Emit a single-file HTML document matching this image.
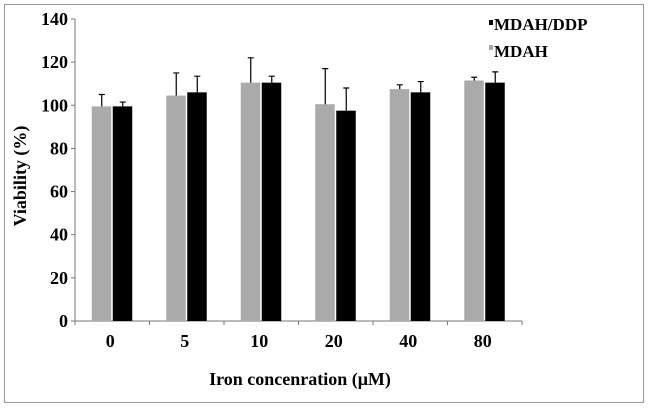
<!DOCTYPE html>
<html><head><meta charset="utf-8"><style>
body{margin:0;background:#fff;width:648px;height:407px;overflow:hidden}
svg{font-family:"Liberation Serif",serif;font-weight:bold}
</style></head><body>
<svg width="648" height="407" id="c">
<rect x="4.5" y="4.5" width="639" height="398" fill="none" stroke="#999"/>
<text x="0" y="0" transform="translate(26,176) rotate(-90)" text-anchor="middle" font-size="18">Viability (%)</text>
<text x="300" y="385" text-anchor="middle" font-size="18">Iron concenration (μM)</text>
<g>
<rect x="489" y="20" width="4" height="5" fill="#000"/>
<text x="494" y="30" font-size="17">MDAH/DDP</text>
<rect x="489" y="45" width="4" height="5" fill="#aaa"/>
<text x="494" y="57" font-size="17">MDAH</text>
</g>
<g id="plot"></g>
</svg>
<script>
const categories=["0","5","10","20","40","80"];
const mdah=[99.5,104.5,110.5,100.5,107.5,111.5];
const mdahErr=[5.5,10.5,11.5,16.5,2,1.5];
const ddp=[99.5,106,110.5,97.5,106,110.5];
const ddpErr=[2,7.5,3,10.5,5,5];
const yTicks=[0,20,40,60,80,100,120,140];
const x0=75,x1=522,yBase=321,yTop=19,ymax=140;
const y=v=>yBase-(v/ymax)*(yBase-yTop);
const bw=(x1-x0)/categories.length;
const g=document.getElementById('plot');
const NS="http://www.w3.org/2000/svg";
function mk(t,a){const e=document.createElementNS(NS,t);for(const k in a)e.setAttribute(k,a[k]);g.appendChild(e);return e;}
const ya=mk('line',{x1:x0,y1:yTop,x2:x0,y2:yBase,stroke:'#777','stroke-width':1});


const xa=mk('line',{x1:x0-4,y1:yBase,x2:x1,y2:yBase,stroke:'#777','stroke-width':1});


yTicks.forEach(v=>{
 const l=mk('line',{x1:x0-4,y1:y(v),x2:x0,y2:y(v),stroke:'#777'});
 
 
 const t=mk('text',{x:x0-7,y:y(v)+6,'text-anchor':'end','font-size':18});
 t.textContent=v;
 
 
});
for(let i=0;i<=categories.length;i++){
 const l=mk('line',{x1:x0+i*bw,y1:yBase,x2:x0+i*bw,y2:yBase+4,stroke:'#777'});
 
 
}
categories.forEach((c,i)=>{
 const cx=x0+bw*(i+0.5);
 const t=mk('text',{x:cx-2,y:347,'text-anchor':'middle','font-size':18});
 t.textContent=c;
 
 
 [[mdah,mdahErr,'#aaa',cx-20.5,'bar-mdah'],[ddp,ddpErr,'#000',cx+0.5,'bar-mdah-ddp']].forEach(([d,e,col,bx,nm])=>{
  const r=mk('rect',{x:bx,y:y(d[i]),width:19.5,height:yBase-y(d[i]),fill:col});
  
  
  const ex=bx+10;
  const el=mk('path',{d:`M${ex},${y(d[i])}V${y(d[i]+e[i])}M${ex-3},${y(d[i]+e[i])}H${ex+3}`,stroke:'#000','stroke-width':1.2,fill:'none'});
  
  
 });
});
</script>
</body></html>
